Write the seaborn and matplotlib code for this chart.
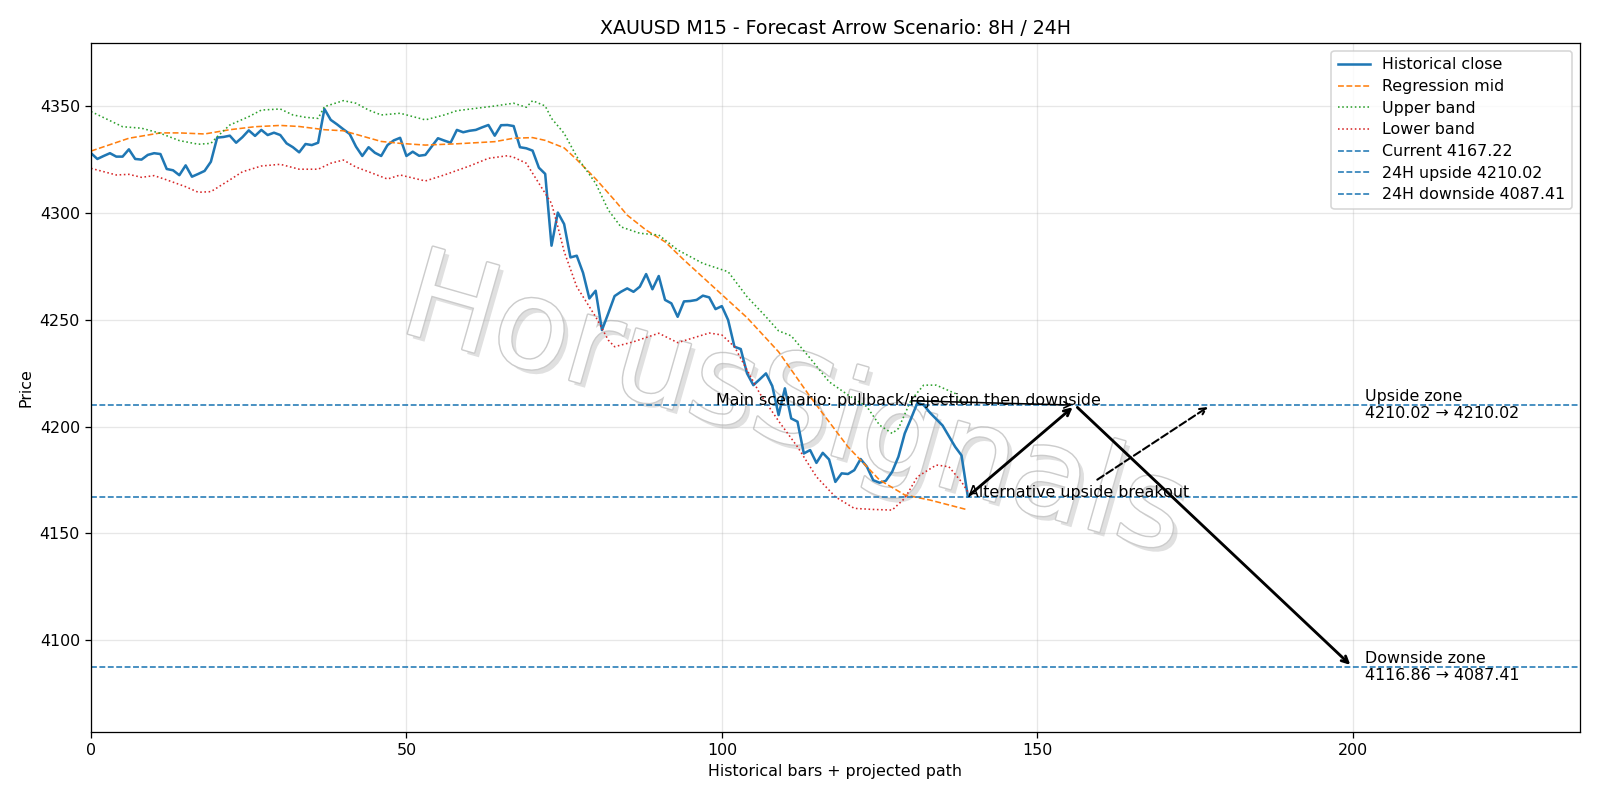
import matplotlib
matplotlib.use("Agg")
import matplotlib.pyplot as plt
import matplotlib.patheffects as pe
import seaborn as sns

# ---------------- data ----------------
close = [
    4328.0, 4325.3, 4326.7, 4328.0, 4326.4, 4326.4, 4329.8, 4325.3, 4325.0, 4327.2,
    4328.0, 4327.6, 4320.6, 4320.0, 4317.7, 4322.3, 4317.0, 4318.3, 4319.7, 4324.0,
    4335.3, 4335.6, 4336.2, 4332.9, 4335.5, 4338.7, 4336.1, 4338.9, 4336.5, 4337.6,
    4336.5, 4332.6, 4330.8, 4328.4, 4332.3, 4331.8, 4332.9, 4348.7, 4343.6, 4341.5,
    4339.2, 4337.0, 4331.1, 4326.7, 4330.8, 4328.2, 4326.7, 4331.8, 4334.0, 4335.2,
    4326.7, 4328.7, 4326.8, 4327.2, 4331.1, 4335.0, 4333.9, 4332.9, 4338.9, 4337.8,
    4338.5, 4338.9, 4340.1, 4341.2, 4336.2, 4341.1, 4341.2, 4340.7, 4330.8, 4330.3,
    4329.2, 4321.2, 4318.3, 4284.7, 4300.2, 4294.8, 4279.2, 4280.0, 4272.0, 4260.0,
    4263.6, 4245.2, 4253.0, 4261.1, 4263.1, 4264.7, 4263.1, 4265.5, 4271.4, 4264.3,
    4270.5, 4259.3, 4257.7, 4251.4, 4258.6, 4258.8, 4259.3, 4261.3, 4260.5, 4255.0,
    4256.4, 4249.9, 4237.4, 4236.3, 4224.9, 4219.4, 4222.1, 4224.9, 4219.0, 4205.4,
    4217.9, 4203.8, 4202.3, 4187.4, 4189.0, 4183.0, 4187.7, 4184.6, 4174.1, 4178.1,
    4177.8, 4179.6, 4184.8, 4181.2, 4174.9, 4173.7, 4174.6, 4178.8, 4185.9, 4196.8,
    4203.8, 4211.1, 4210.1, 4206.5, 4203.5, 4200.5, 4195.5, 4190.5, 4186.5, 4167.22,
]
bars = list(range(len(close)))

mid_x = [0, 3, 6, 11, 14, 18, 22, 26, 30, 33, 37, 40, 43, 46, 49, 53, 58, 64, 67, 70,
         72, 75, 77, 80, 83, 85, 88, 91, 94, 99, 104, 109, 114, 120, 125, 129, 133, 139]
mid_v = [4329, 4332, 4335, 4337.5, 4337.5, 4337, 4339, 4340.4, 4341, 4340.5,
         4339, 4338.5, 4336, 4333.5, 4332.6, 4331.8, 4332.4, 4333.4, 4335, 4335.3,
         4334, 4330.5, 4325, 4316, 4306, 4299, 4292, 4286.5, 4278, 4264.5,
         4251, 4235, 4214, 4190.5, 4175, 4168, 4165.6, 4161]

upper_x = [0, 5, 8, 11, 14, 17, 19, 20, 22, 25, 27, 30, 32, 34, 36, 37, 40, 42, 44, 46,
           49, 53, 56, 58, 64, 67, 69, 70, 72, 73, 75, 77, 80, 82, 84, 87, 90, 93, 97, 101,
           104, 107, 109, 111, 114, 117, 120, 123, 125, 127, 128, 130, 132, 134, 137, 138]
upper_v = [4347.5, 4340.4, 4339.7, 4337.3, 4333.9, 4332.2, 4332.6, 4335.7, 4341.2, 4345.1,
           4348.2, 4348.7, 4345.9, 4344.8, 4344.3, 4349.8, 4352.6, 4351.4, 4348.2, 4345.9,
           4346.7, 4343.6, 4345.9, 4347.9, 4350.1, 4351.4, 4349.5, 4352.6, 4350.1, 4344.3,
           4337.3, 4326.4, 4313.9, 4301.4, 4293.5, 4290.5, 4289.7, 4282.7, 4276.4, 4272.5,
           4260.8, 4251.4, 4244.8, 4242.5, 4232.0, 4221.0, 4214.8, 4209.3, 4200.7, 4196.8,
           4199.1, 4212.4, 4219.4, 4219.4, 4215.5, 4210.9]

lower_x = [0, 4, 6, 8, 10, 12, 15, 17, 19, 22, 24, 27, 30, 33, 36, 38, 40, 42, 44, 47,
           49, 53, 56, 60, 63, 66, 67, 69, 71, 73, 74, 75, 77, 80, 82, 83, 86, 90, 93, 98,
           100, 102, 104, 106, 109, 112, 115, 118, 121, 124, 127, 129, 131, 134, 136, 138, 139]
lower_v = [4320.9, 4317.8, 4318.1, 4316.7, 4317.5, 4315.5, 4312.3, 4309.7, 4310.0, 4315.5,
           4319.3, 4322.0, 4322.8, 4320.5, 4320.5, 4323.3, 4324.8, 4321.5, 4319.3, 4315.9,
           4317.8, 4315.0, 4317.8, 4322.0, 4325.6, 4326.8, 4326.1, 4323.3, 4313.9, 4304.5,
           4293.6, 4282.0, 4265.5, 4251.4, 4240.5, 4237.4, 4239.7, 4243.7, 4239.3, 4243.8,
           4242.9, 4237.4, 4226.5, 4215.6, 4202.6, 4190.5, 4176.5, 4167.1, 4161.7, 4161.2,
           4160.9, 4166.4, 4176.5, 4182.0, 4181.2, 4174.1, 4169.5]

current_price = 4167.22
up_level = 4210.02
down_level = 4087.41
up_zone = (4210.02, 4210.02)
down_zone = (4116.86, 4087.41)

last_x = 139
pullback_x = 156
target_x = 200
alt_x = 177.5
main_label_x = 99
zone_label_x = 202

title = "XAUUSD M15 - Forecast Arrow Scenario: 8H / 24H"
xlabel = "Historical bars + projected path"
ylabel = "Price"
watermark = "HorusSignals"

# ---------------- figure ----------------
DPI = 1600 / 14
fig, ax = plt.subplots(figsize=(14, 7), dpi=DPI)
fig.subplots_adjust(left=0.0569, right=0.9873, top=0.946, bottom=0.085)

ax.text(0.472, 0.47, watermark, transform=ax.transAxes, fontsize=78, rotation=-16,
        ha="center", va="center", color="white", zorder=0.5,
        path_effects=[pe.SimplePatchShadow(offset=(3, -3), shadow_rgbFace="#999999", alpha=0.3),
                      pe.Stroke(linewidth=1.8, foreground="#cccccc"),
                      pe.Normal()])

sns.lineplot(x=bars, y=close, ax=ax, color="#1f77b4", linewidth=1.6, label="Historical close")
sns.lineplot(x=mid_x, y=mid_v, ax=ax, color="#ff7f0e", linewidth=1.0, linestyle="--",
             label="Regression mid")
sns.lineplot(x=upper_x, y=upper_v, ax=ax, color="#2ca02c", linewidth=1.0, linestyle=":",
             label="Upper band")
sns.lineplot(x=lower_x, y=lower_v, ax=ax, color="#d62728", linewidth=1.0, linestyle=":",
             label="Lower band")

ax.axhline(current_price, color="#1f77b4", linestyle="--", linewidth=1.0,
           label=f"Current {current_price:.2f}")
ax.axhline(up_level, color="#1f77b4", linestyle="--", linewidth=1.0,
           label=f"24H upside {up_level:.2f}")
ax.axhline(down_level, color="#1f77b4", linestyle="--", linewidth=1.0,
           label=f"24H downside {down_level:.2f}")

# main scenario path
ax.annotate("", xy=(pullback_x, up_level), xytext=(last_x, current_price),
            arrowprops=dict(arrowstyle="->", color="black", lw=1.8))
ax.annotate("", xy=(target_x, down_level), xytext=(pullback_x, up_level),
            arrowprops=dict(arrowstyle="->", color="black", lw=1.8))
ax.annotate("Main scenario: pullback/rejection then downside",
            xy=(pullback_x, up_level), xytext=(main_label_x, up_level), fontsize=10,
            arrowprops=dict(arrowstyle="->", color="black", lw=1.0))
# alternative
ax.annotate("Alternative upside breakout", xy=(alt_x, up_level),
            xytext=(last_x, current_price), fontsize=10,
            arrowprops=dict(arrowstyle="->", color="black", lw=1.3, linestyle="--"))

ax.text(zone_label_x, up_level, f"Upside zone\n{up_zone[0]:.2f} \u2192 {up_zone[1]:.2f}",
        va="center", ha="left", fontsize=10)
ax.text(zone_label_x, down_level, f"Downside zone\n{down_zone[0]:.2f} \u2192 {down_zone[1]:.2f}",
        va="center", ha="left", fontsize=10)

ax.set_xlim(0, 236)
ax.set_ylim(4057, 4379.5)
ax.grid(True, alpha=0.3)
ax.set_title(title)
ax.set_xlabel(xlabel)
ax.set_ylabel(ylabel)
ax.legend(loc="upper right", labelspacing=0.42)

fig.savefig("out.png", dpi=DPI)
